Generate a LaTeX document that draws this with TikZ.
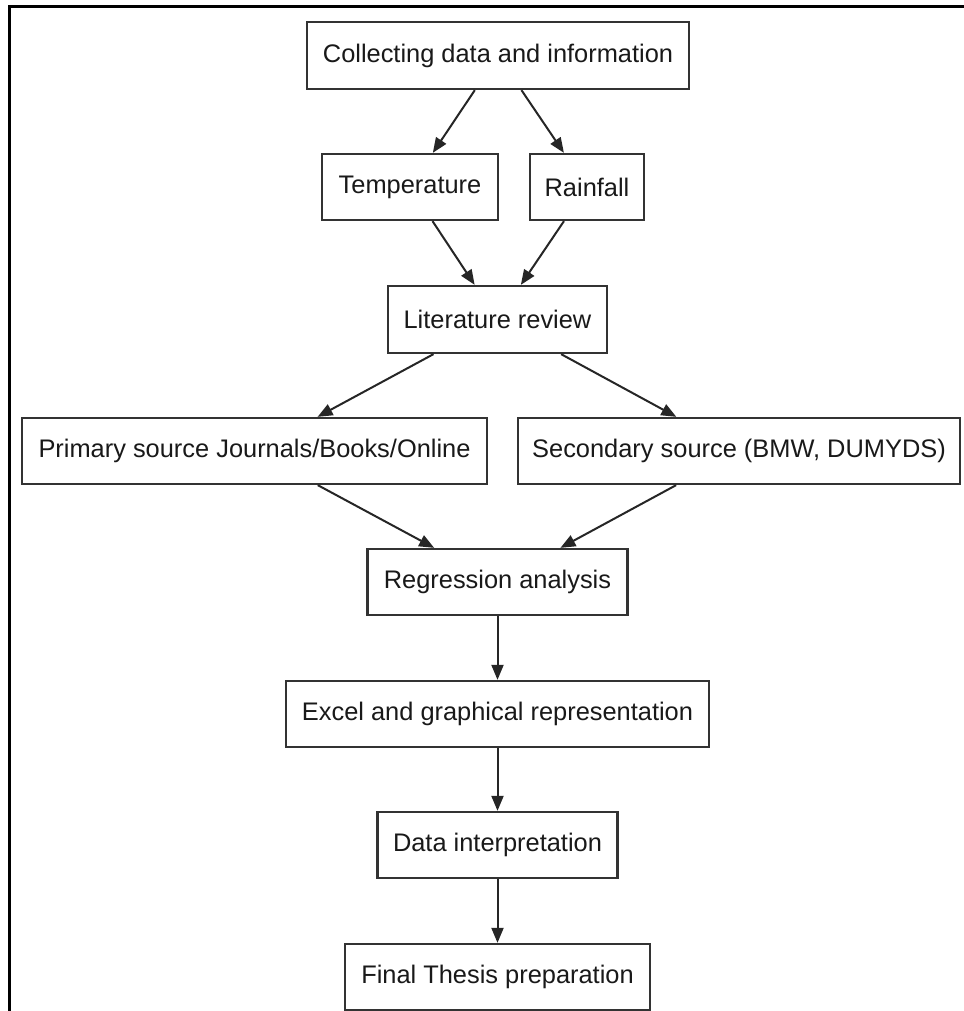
\documentclass[tikz,border=0pt]{standalone}
\usepackage{fontspec}
\setmainfont{Liberation Sans}
\usetikzlibrary{arrows.meta}
\begin{document}
\begin{tikzpicture}[x=1pt,y=-1pt,
  box/.style={draw=black!80, line width=2.3pt, fill=white, inner sep=0pt,
    minimum height=66pt, text=black!90,
    font=\fontsize{25.4}{30}\selectfont},
  arr/.style={draw=black!85, line width=2pt,
    -{Triangle[length=15pt,width=12pt]}},
  frame/.style={draw=black, line width=3pt}]
\useasboundingbox (0,0) rectangle (963,1011);
\draw[frame] (9,1013) -- (9,7) -- (965,7);
\node[box, minimum width=382pt, minimum height=67pt] (coll) at (498,55.5) {Collecting data and information};
\node[box, minimum width=176pt] (temp) at (410,187) {Temperature};
\node[box, minimum width=114pt] (rain) at (587,187) {Rainfall};
\node[box, minimum width=219pt, minimum height=67pt] (lit) at (497.5,319.5) {Literature review};
\node[box, minimum width=465pt] (prim) at (254.5,451) {Primary source Journals/Books/Online};
\node[box, minimum width=442pt] (sec) at (739,451) {Secondary source (BMW, DUMYDS)};
\node[box, minimum width=260pt] (reg) at (497.5,582) {Regression analysis};
\node[box, minimum width=423pt] (excel) at (497.5,714) {Excel and graphical representation};
\node[box, minimum width=240pt] (data) at (497.5,845) {Data interpretation};
\node[box, minimum width=305pt] (final) at (497.5,977) {Final Thesis preparation};
\draw[arr] (coll) -- (temp);
\draw[arr] (coll) -- (rain);
\draw[arr] (temp) -- (lit);
\draw[arr] (rain) -- (lit);
\draw[arr] (lit) -- (prim);
\draw[arr] (lit) -- (sec);
\draw[arr] (prim) -- (reg);
\draw[arr] (sec) -- (reg);
\draw[arr] (reg) -- (excel);
\draw[arr] (excel) -- (data);
\draw[arr] (data) -- (final);
\end{tikzpicture}
\end{document}
